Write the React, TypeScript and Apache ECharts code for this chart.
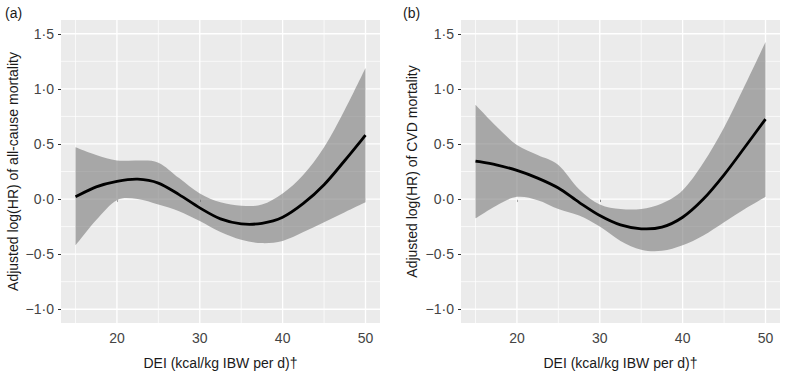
import React, { useEffect, useRef } from "react";
import * as echarts from "echarts";

// ---- Data ----
const dei = [15, 17.5, 20, 22.5, 25, 27.5, 30, 32.5, 35, 37.5, 40, 42.5, 45, 47.5, 50];

const allCauseFit = [0.02, 0.11, 0.16, 0.18, 0.145, 0.04, -0.08, -0.18, -0.225, -0.22, -0.165, -0.04, 0.13, 0.35, 0.58];
const allCauseUpper = [0.47, 0.4, 0.35, 0.35, 0.33, 0.19, 0.05, -0.03, -0.06, -0.05, 0.05, 0.22, 0.47, 0.81, 1.19];
const allCauseLower = [-0.42, -0.19, -0.01, 0.0, -0.05, -0.11, -0.2, -0.3, -0.37, -0.4, -0.38, -0.3, -0.21, -0.12, -0.03];

const cvdFit = [0.345, 0.31, 0.26, 0.19, 0.1, -0.03, -0.15, -0.235, -0.27, -0.255, -0.165, 0.0, 0.22, 0.47, 0.725];
const cvdUpper = [0.855, 0.66, 0.49, 0.4, 0.31, 0.09, -0.05, -0.09, -0.09, -0.04, 0.08, 0.33, 0.65, 1.03, 1.425];
const cvdLower = [-0.175, -0.06, 0.02, -0.01, -0.09, -0.15, -0.25, -0.38, -0.46, -0.47, -0.42, -0.33, -0.21, -0.09, 0.02];

const xTicks = [20, 30, 40, 50];
const xMinorGrid = [15, 25, 35, 45];
const yTicks = [-1.0, -0.5, 0.0, 0.5, 1.0, 1.5];
const yMinorGrid = [-0.75, -0.25, 0.25, 0.75, 1.25];

const panelLabels = ["(a)", "(b)"];
const yTitles = ["Adjusted log(HR) of all-cause mortality", "Adjusted log(HR) of CVD mortality"];
const xTitle = "DEI (kcal/kg IBW per d)†";

// ---- Layout / style ----
const FONT = "'Liberation Sans', Arial, Helvetica, sans-serif";
const X_MIN = dei[0] - 0.05 * (dei[dei.length - 1] - dei[0]);
const X_MAX = dei[dei.length - 1] + 0.05 * (dei[dei.length - 1] - dei[0]);
const Y_MIN = yTicks[0] - 0.05 * (yTicks[yTicks.length - 1] - yTicks[0]);
const Y_MAX = yTicks[yTicks.length - 1] + 0.05 * (yTicks[yTicks.length - 1] - yTicks[0]);
const gridLefts = [61, 461];
const labelLefts = [5, 403];
const yNameGaps = [41, 42];

const fmt = (v: number) => v.toFixed(1).replace(".", "·").replace("-", "\u2212");

// Catmull-Rom spline through pixel points -> cubic Bezier path segments
function curveSegments(pts: number[][]): string {
  let d = "";
  for (let i = 0; i < pts.length - 1; i++) {
    const p0 = pts[i - 1] || pts[i];
    const p1 = pts[i];
    const p2 = pts[i + 1];
    const p3 = pts[i + 2] || p2;
    const c1x = p1[0] + (p2[0] - p0[0]) / 6;
    const c1y = p1[1] + (p2[1] - p0[1]) / 6;
    const c2x = p2[0] - (p3[0] - p1[0]) / 6;
    const c2y = p2[1] - (p3[1] - p1[1]) / 6;
    d += ` C${c1x},${c1y} ${c2x},${c2y} ${p2[0]},${p2[1]}`;
  }
  return d;
}

function buildOption() {
  const panels = [
    { fit: allCauseFit, upper: allCauseUpper, lower: allCauseLower },
    { fit: cvdFit, upper: cvdUpper, lower: cvdLower },
  ];

  const vLines = (vals: number[]) => vals.flatMap((v) => [[v, Y_MIN], [v, Y_MAX], ["-", "-"]]);
  const hLines = (vals: number[]) => vals.flatMap((v) => [[X_MIN, v], [X_MAX, v], ["-", "-"]]);

  const series: any[] = [];
  panels.forEach((p, i) => {
    const common = { xAxisIndex: i, yAxisIndex: i, silent: true };
    series.push({
      ...common,
      type: "line",
      symbol: "none",
      data: [...vLines(xMinorGrid), ...hLines(yMinorGrid)],
      connectNulls: false,
      lineStyle: { color: "#ffffff", width: 0.7 },
      z: 1,
    });
    series.push({
      ...common,
      type: "line",
      symbol: "none",
      data: [...vLines(xTicks), ...hLines(yTicks)],
      connectNulls: false,
      lineStyle: { color: "#ffffff", width: 1.3 },
      z: 1,
    });
    // confidence band
    series.push({
      ...common,
      type: "custom",
      data: dei.map((x, j) => [x, p.lower[j], p.upper[j]]),
      encode: { x: 0, y: [1, 2] },
      z: 2,
      renderItem: (params: any, api: any) => {
        if (params.dataIndex !== 0) return null;
        const up = dei.map((x, j) => api.coord([x, p.upper[j]]));
        const lo = dei.map((x, j) => api.coord([x, p.lower[j]])).reverse();
        const d =
          `M${up[0][0]},${up[0][1]}` +
          curveSegments(up) +
          ` L${lo[0][0]},${lo[0][1]}` +
          curveSegments(lo) +
          " Z";
        return {
          type: "path",
          shape: { pathData: d },
          style: { fill: "rgba(122,122,122,0.6)", stroke: "none" },
        };
      },
    });
    // fitted curve
    series.push({
      ...common,
      type: "custom",
      data: dei.map((x, j) => [x, p.fit[j]]),
      encode: { x: 0, y: 1 },
      z: 3,
      renderItem: (params: any, api: any) => {
        if (params.dataIndex !== 0) return null;
        const pts = dei.map((x, j) => api.coord([x, p.fit[j]]));
        const d = `M${pts[0][0]},${pts[0][1]}` + curveSegments(pts);
        return {
          type: "path",
          shape: { pathData: d },
          style: { fill: "none", stroke: "#000000", lineWidth: 2.8, lineJoin: "round" },
        };
      },
    });
  });

  return {
    animation: false,
    backgroundColor: "#ffffff",
    textStyle: { fontFamily: FONT },
    grid: gridLefts.map((left) => ({
      left,
      top: 20,
      width: 319,
      height: 303,
      show: true,
      backgroundColor: "#EBEBEB",
      borderWidth: 0,
      containLabel: false,
      outerBoundsMode: "none",
    })),
    xAxis: gridLefts.map((_, i) => ({
      type: "value",
      gridIndex: i,
      min: X_MIN,
      max: X_MAX,
      axisLine: { show: false },
      axisTick: { show: true, length: 3, customValues: xTicks, lineStyle: { color: "#333333", width: 1 } },
      axisLabel: { customValues: xTicks, color: "#444444", fontSize: 14, margin: 8, fontFamily: FONT },
      splitLine: { show: false },
      name: xTitle,
      nameLocation: "middle",
      nameGap: 33,
      nameTextStyle: { color: "#1A1A1A", fontSize: 14, fontFamily: FONT },
    })),
    yAxis: gridLefts.map((_, i) => ({
      type: "value",
      gridIndex: i,
      min: Y_MIN,
      max: Y_MAX,
      axisLine: { show: false },
      axisTick: { show: true, length: 3, customValues: yTicks, lineStyle: { color: "#333333", width: 1 } },
      axisLabel: {
        customValues: yTicks,
        color: "#444444",
        fontSize: 14,
        margin: 7,
        fontFamily: FONT,
        formatter: (v: number) => fmt(v),
      },
      splitLine: { show: false },
      name: yTitles[i],
      nameLocation: "middle",
      nameGap: yNameGaps[i],
      nameTextStyle: { color: "#1A1A1A", fontSize: 14, fontFamily: FONT },
    })),
    graphic: panelLabels.map((t, i) => ({
      type: "text",
      left: labelLefts[i],
      top: 6,
      style: { text: t, fill: "#1A1A1A", fontSize: 14, fontFamily: FONT },
    })),
    series,
  };
}

export default function App() {
  const ref = useRef<HTMLDivElement>(null);
  useEffect(() => {
    if (!ref.current) return;
    const chart = echarts.init(ref.current, null, { renderer: "svg" });
    chart.setOption(buildOption() as any);
    return () => chart.dispose();
  }, []);
  return (
    <div
      ref={ref}
      style={{ position: "fixed", left: 0, top: 0, width: 800, height: 374, background: "#fff" }}
    />
  );
}
